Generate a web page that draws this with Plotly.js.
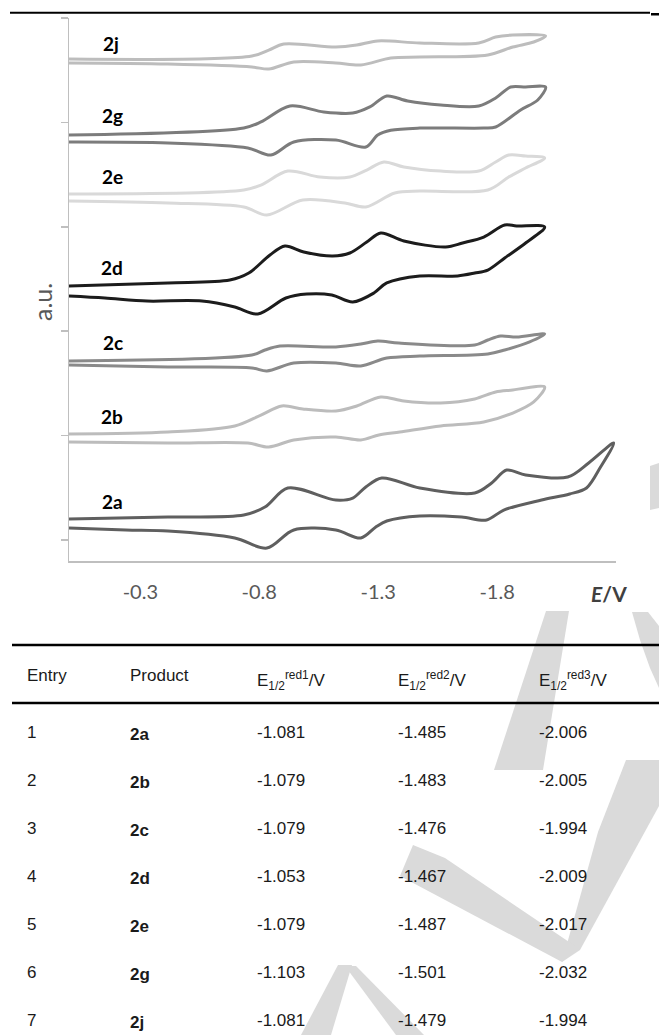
<!DOCTYPE html>
<html><head><meta charset="utf-8">
<script src="https://cdn.plot.ly/plotly-3.0.1.min.js"></script>
<style>html,body{margin:0;padding:0;background:#fff;overflow:hidden;} #chart{width:659px;height:1035px;} .scrollbar-kit{display:none !important;}</style>
</head><body><div id="chart"></div>
<script>
// ---- CV curves (E in V, current in a.u., offset stacks) ----
const E_2a = [0, -0.416, -0.735, -0.824, -0.920, -1.122, -1.193, -1.248, -1.315, -1.475, -1.706, -1.777, -1.840, -1.920, -2.097, -2.185, -2.290, -2.235, -2.176, -2.105, -1.987, -1.828, -1.756, -1.651, -1.475, -1.336, -1.290, -1.227, -1.122, -0.945, -0.832, -0.697, -0.416, -0.239, 0];
const I_2a = [0.201, 0.220, 0.239, 0.316, 0.498, 0.383, 0.402, 0.508, 0.594, 0.498, 0.450, 0.546, 0.670, 0.623, 0.603, 0.738, 0.929, 0.699, 0.498, 0.441, 0.383, 0.287, 0.192, 0.220, 0.230, 0.182, 0.125, 0.019, 0.096, 0.096, -0.077, 0.019, 0.086, 0.096, 0.115];

const E_2b = [0, -0.416, -0.697, -0.807, -0.895, -0.983, -1.122, -1.210, -1.311, -1.408, -1.563, -1.706, -1.794, -1.866, -1.920, -2.000, -1.954, -1.866, -1.744, -1.563, -1.391, -1.303, -1.227, -1.122, -0.945, -0.840, -0.752, -0.416, 0];
const I_2b = [1.015, 1.034, 1.092, 1.197, 1.284, 1.255, 1.236, 1.284, 1.370, 1.331, 1.312, 1.351, 1.418, 1.437, 1.456, 1.466, 1.322, 1.216, 1.130, 1.092, 1.034, 1.006, 0.958, 0.987, 0.958, 0.891, 0.929, 0.929, 0.939];

const E_2c = [0, -0.769, -0.824, -0.887, -1.122, -1.227, -1.298, -1.387, -1.706, -1.761, -1.815, -1.882, -2.000, -1.937, -1.832, -1.761, -1.475, -1.336, -1.227, -1.122, -0.945, -0.832, -0.769, -0.416, 0];
const I_2c = [1.715, 1.772, 1.820, 1.858, 1.849, 1.877, 1.906, 1.887, 1.868, 1.916, 1.954, 1.944, 1.973, 1.897, 1.820, 1.782, 1.762, 1.743, 1.667, 1.695, 1.695, 1.619, 1.648, 1.657, 1.676];

const E_2d = [0, -0.416, -0.676, -0.756, -0.845, -0.908, -0.987, -1.109, -1.181, -1.252, -1.311, -1.408, -1.584, -1.655, -1.744, -1.832, -1.882, -2.000, -1.920, -1.832, -1.761, -1.706, -1.634, -1.475, -1.336, -1.282, -1.193, -1.105, -1.000, -0.912, -0.794, -0.697, -0.559, -0.328, -0.151, 0];
const I_2d = [2.433, 2.462, 2.490, 2.557, 2.730, 2.816, 2.759, 2.720, 2.749, 2.854, 2.941, 2.864, 2.807, 2.845, 2.902, 3.017, 3.008, 2.998, 2.845, 2.701, 2.586, 2.557, 2.529, 2.529, 2.462, 2.366, 2.280, 2.347, 2.356, 2.318, 2.165, 2.232, 2.289, 2.289, 2.318, 2.337];

const E_2e = [0, -0.735, -0.807, -0.920, -1.055, -1.181, -1.252, -1.324, -1.408, -1.563, -1.723, -1.794, -1.849, -1.920, -2.000, -1.920, -1.849, -1.761, -1.475, -1.370, -1.248, -1.160, -0.983, -0.832, -0.735, -0.416, 0];
const I_2e = [3.314, 3.352, 3.400, 3.534, 3.477, 3.477, 3.544, 3.621, 3.573, 3.534, 3.534, 3.621, 3.688, 3.678, 3.659, 3.563, 3.477, 3.352, 3.343, 3.324, 3.190, 3.228, 3.257, 3.113, 3.190, 3.228, 3.247];

const E_2g = [0, -0.735, -0.807, -0.929, -1.071, -1.193, -1.265, -1.336, -1.424, -1.563, -1.723, -1.794, -1.857, -1.920, -2.004, -1.971, -1.899, -1.794, -1.744, -1.475, -1.353, -1.298, -1.248, -1.122, -0.945, -0.849, -0.752, -0.416, 0];
const I_2g = [3.879, 3.946, 4.004, 4.157, 4.100, 4.090, 4.148, 4.253, 4.205, 4.167, 4.157, 4.234, 4.339, 4.339, 4.339, 4.215, 4.119, 3.956, 3.946, 3.946, 3.925, 3.880, 3.764, 3.831, 3.812, 3.688, 3.755, 3.803, 3.812];

const E_2j = [0, -0.769, -0.840, -0.903, -1.122, -1.210, -1.298, -1.475, -1.723, -1.794, -1.866, -2.004, -1.954, -1.866, -1.761, -1.475, -1.353, -1.227, -1.122, -0.945, -0.840, -0.769, -0.416, 0];
const I_2j = [4.607, 4.636, 4.693, 4.751, 4.722, 4.741, 4.780, 4.761, 4.761, 4.818, 4.837, 4.828, 4.770, 4.722, 4.646, 4.626, 4.617, 4.550, 4.569, 4.579, 4.511, 4.531, 4.559, 4.569];

const curveNames = ['2a', '2b', '2c', '2d', '2e', '2g', '2j'];
const curveE = [E_2a, E_2b, E_2c, E_2d, E_2e, E_2g, E_2j];
const curveI = [I_2a, I_2b, I_2c, I_2d, I_2e, I_2g, I_2j];
const curveColors = ['#5f5f5f', '#bcbcbc', '#8a8a8a', '#1c1c1c', '#d9d9d9', '#7c7c7c', '#bdbdbd'];
const labelPos = [[-0.181, 0.37], [-0.181, 1.18], [-0.183, 1.89], [-0.181, 2.61], [-0.181, 3.48], [-0.183, 4.07], [-0.178, 4.76]];

const xTickVals = [-0.3, -0.8, -1.3, -1.8];
const xTickText = ['-0.3', '-0.8', '-1.3', '-1.8'];
const yTickVals = [0, 1, 2, 3, 4, 5];

// ---- table ----
const tableHeader = ['Entry', 'Product', 'E<sub>1/2</sub><sup>red1</sup>/V', 'E<sub>1/2</sub><sup>red2</sup>/V', 'E<sub>1/2</sub><sup>red3</sup>/V'];
const entries = ['1', '2', '3', '4', '5', '6', '7'];
const products = ['2a', '2b', '2c', '2d', '2e', '2g', '2j'];
const red1 = ['-1.081', '-1.079', '-1.079', '-1.053', '-1.079', '-1.103', '-1.081'];
const red2 = ['-1.485', '-1.483', '-1.476', '-1.467', '-1.487', '-1.501', '-1.479'];
const red3 = ['-2.006', '-2.005', '-1.994', '-2.009', '-2.017', '-2.032', '-1.994'];

const W = 659, H = 1035;
const px = v => v / W;
const py = v => 1 - v / H;

const traces = curveNames.map((n, i) => ({
  type: 'scatter', mode: 'lines', name: n,
  x: curveE[i], y: curveI[i],
  line: {color: curveColors[i], width: 3, shape: 'spline', smoothing: 0.9},
  hoverinfo: 'skip', showlegend: false, xaxis: 'x', yaxis: 'y'
}));

traces.push({
  type: 'table',
  domain: {x: [px(19), 1], y: [0, py(660)]},
  columnwidth: [103, 127, 141, 141, 128],
  header: {
    values: tableHeader.map(t => [t]),
    align: 'left', height: 57,
    fill: {color: 'rgba(0,0,0,0)'}, line: {color: 'rgba(0,0,0,0)', width: 0},
    font: {family: 'Liberation Sans, Arial, sans-serif', size: 17, color: '#1a1a1a'}
  },
  cells: {
    values: [entries, products.map(p => '<b>' + p + '</b>'), red1, red2, red3],
    align: 'left', height: 48,
    fill: {color: 'rgba(0,0,0,0)'}, line: {color: 'rgba(0,0,0,0)', width: 0},
    font: {family: 'Liberation Sans, Arial, sans-serif', size: 17, color: '#1a1a1a'}
  }
});

const annotations = curveNames.map((n, i) => ({
  x: labelPos[i][0], y: labelPos[i][1], xref: 'x', yref: 'y',
  text: '<b>' + n + '</b>', showarrow: false, xanchor: 'center', yanchor: 'middle',
  font: {family: 'Lato, sans-serif', size: 19, color: '#000000'}
}));
annotations.push({
  x: px(42), y: py(302), xref: 'paper', yref: 'paper', text: 'a.u.', textangle: -90,
  showarrow: false, xanchor: 'center', yanchor: 'middle',
  font: {family: 'Lato, sans-serif', size: 25, color: '#595959'}
});
annotations.push({
  x: px(609), y: py(593), xref: 'paper', yref: 'paper', text: '<b><i>E</i>/V</b>',
  showarrow: false, xanchor: 'center', yanchor: 'middle',
  font: {family: 'Lato, sans-serif', size: 21, color: '#404040'}
});

// faint background watermark strokes (decoration)
const wm = '#dadada';
const poly = pts => 'M' + pts.map(p => px(p[0]) + ',' + py(p[1])).join('L') + 'Z';
const wmShapes = [
  [[650, 466], [659, 463], [659, 508], [650, 510]],
  [[546, 611], [569, 611], [543, 770], [494, 770]],
  [[632, 612], [648, 612], [659, 626], [659, 688], [650, 668], [640, 640]],
  [[626, 760], [659, 760], [659, 806], [580, 950], [562, 962], [598, 832]],
  [[413, 845], [445, 858], [578, 948], [562, 962], [400, 876]],
  [[338, 965], [352, 965], [331, 1035], [301, 1035]],
  [[345, 966], [356, 966], [424, 1035], [396, 1035]]
].map(p => ({type: 'path', xref: 'paper', yref: 'paper', path: poly(p), fillcolor: wm, line: {width: 0}, layer: 'below'}));

const shapes = wmShapes.concat([
  {type: 'line', xref: 'paper', yref: 'paper', x0: px(10), x1: px(650), y0: py(12.7), y1: py(12.7), line: {color: '#000', width: 2}},
  {type: 'rect', xref: 'paper', yref: 'paper', x0: px(651), x1: px(659), y0: py(13), y1: py(15.5), line: {width: 0}, fillcolor: '#000'},
  {type: 'line', xref: 'paper', yref: 'paper', x0: px(12), x1: px(659), y0: py(645), y1: py(645), line: {color: '#000', width: 2.7}},
  {type: 'line', xref: 'paper', yref: 'paper', x0: px(12), x1: px(659), y0: py(703), y1: py(703), line: {color: '#000', width: 2.7}}
]);

const layout = {
  width: W, height: H,
  margin: {l: 0, r: 0, t: 0, b: 0, pad: 0},
  paper_bgcolor: '#ffffff', plot_bgcolor: 'rgba(0,0,0,0)',
  showlegend: false,
  xaxis: {
    domain: [px(69), px(616)], range: [0, -2.3], anchor: 'y',
    showline: true, linecolor: '#bfbfbf', linewidth: 1.5,
    ticks: '', tickvals: xTickVals, ticktext: xTickText,
    showgrid: false, zeroline: false, ticklabelstandoff: 12,
    tickfont: {family: 'Lato, sans-serif', size: 20, color: '#595959'}
  },
  yaxis: {
    domain: [py(561), py(18)], range: [-0.201, 5], anchor: 'x',
    showline: true, linecolor: '#bfbfbf', linewidth: 1.5,
    ticks: 'outside', ticklen: 7, tickwidth: 1.5, tickcolor: '#bfbfbf',
    tickvals: yTickVals, showticklabels: false,
    showgrid: false, zeroline: false
  },
  annotations: annotations,
  shapes: shapes
};

Plotly.newPlot('chart', traces, layout, {staticPlot: true, displayModeBar: false});
</script>
</body></html>
